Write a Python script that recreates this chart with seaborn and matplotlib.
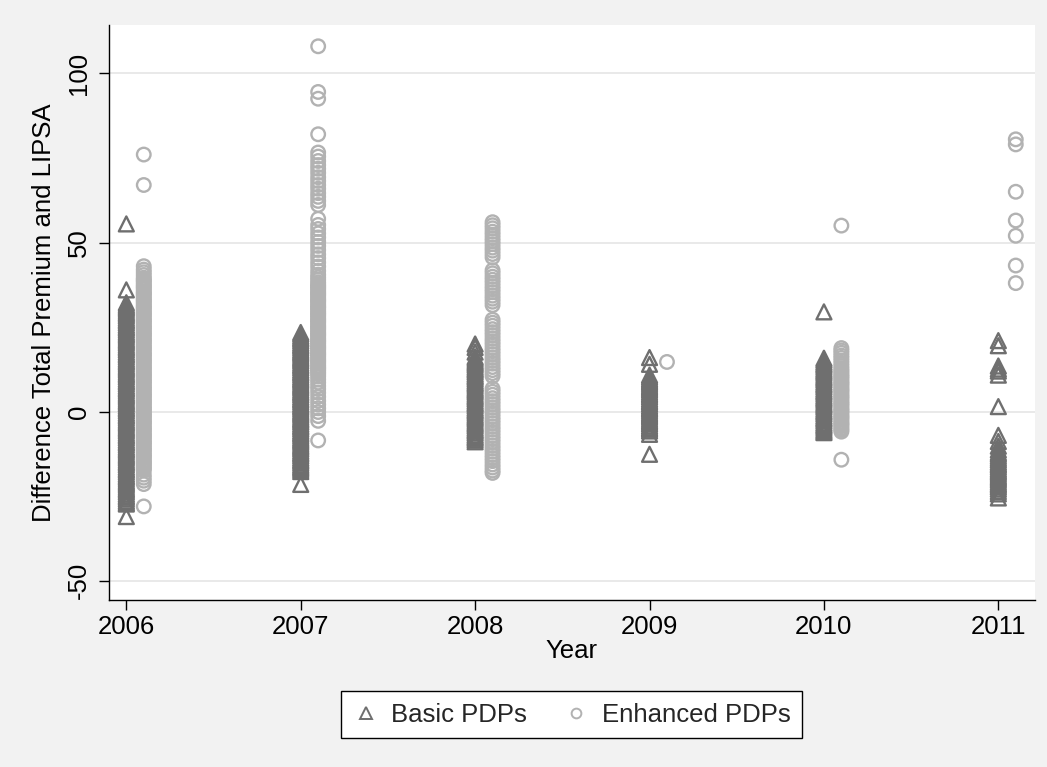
import matplotlib
matplotlib.use("Agg")
import matplotlib.pyplot as plt
import seaborn as sns
import pandas as pd
from matplotlib.lines import Line2D

# ---------------- data ----------------
years = [2006, 2007, 2008, 2009, 2010, 2011]

basic_2006 = [55.5, 36.0,
              32.2, 31.6, 31.1, 30.7, 30.2, 29.6, 29.1, 28.7, 28.2, 27.6, 27.1, 26.7, 26.2, 25.6,
              25.1, 24.7, 24.2, 23.6, 23.1, 22.7, 22.2, 21.6, 21.1, 20.7, 20.2, 19.6, 19.1, 18.7,
              18.2, 17.6, 17.1, 16.7, 16.2, 15.6, 15.1, 14.7, 14.2, 13.6, 13.1, 12.7, 12.2, 11.6,
              11.1, 10.7, 10.2, 9.6, 9.1, 8.7, 8.2, 7.6, 7.1, 6.7, 6.2, 5.6, 5.1, 4.7, 4.2, 3.6,
              3.1, 2.7, 2.2, 1.6, 1.1, 0.7, 0.2, -0.4, -0.9, -1.3, -1.8, -2.4, -2.9, -3.3, -3.8,
              -4.4, -4.9, -5.3, -5.8, -6.4, -6.9, -7.3, -7.8, -8.4, -8.9, -9.3, -9.8, -10.4, -10.9,
              -11.3, -11.8, -12.4, -12.9, -13.3, -13.8, -14.4, -14.9, -15.3, -15.8, -16.4, -16.9,
              -17.3, -17.8, -18.4, -18.9, -19.3, -19.8, -20.4, -20.9, -21.3, -21.8, -22.4, -22.9,
              -23.3, -23.8, -24.4, -24.9, -25.3, -25.8, -26.4, -26.9, -27.3,
              -31.0]
enh_2006 = [76.0, 67.0, 43.0, 42.0, 41.2, 40.4,
            39.6, 39.1, 38.7, 38.2, 37.6, 37.1, 36.7, 36.2, 35.6, 35.1, 34.7, 34.2, 33.6, 33.1,
            32.7, 32.2, 31.6, 31.1, 30.7, 30.2, 29.6, 29.1, 28.7, 28.2, 27.6, 27.1, 26.7, 26.2,
            25.6, 25.1, 24.7, 24.2, 23.6, 23.1, 22.7, 22.2, 21.6, 21.1, 20.7, 20.2, 19.6, 19.1,
            18.7, 18.2, 17.6, 17.1, 16.7, 16.2, 15.6, 15.1, 14.7, 14.2, 13.6, 13.1, 12.7, 12.2,
            11.6, 11.1, 10.7, 10.2, 9.6, 9.1, 8.7, 8.2, 7.6, 7.1, 6.7, 6.2, 5.6, 5.1, 4.7, 4.2,
            3.6, 3.1, 2.7, 2.2, 1.6, 1.1, 0.7, 0.2, -0.4, -0.9, -1.3, -1.8, -2.4, -2.9, -3.3,
            -3.8, -4.4, -4.9, -5.3, -5.8, -6.4, -6.9, -7.3, -7.8, -8.4, -8.9, -9.3, -9.8, -10.4,
            -10.9, -11.3, -11.8, -12.4, -12.9, -13.3, -13.8, -14.4, -14.9, -15.3, -15.8, -16.4,
            -16.9, -17.4,
            -18.6, -19.5, -20.4, -21.4, -28.0]

basic_2007 = [23.4, 22.9, 22.3, 21.8, 21.4, 20.9, 20.3, 19.8, 19.4, 18.9, 18.3, 17.8, 17.4, 16.9,
              16.3, 15.8, 15.4, 14.9, 14.3, 13.8, 13.4, 12.9, 12.3, 11.8, 11.4, 10.9, 10.3, 9.8,
              9.4, 8.9, 8.3, 7.8, 7.4, 6.9, 6.3, 5.8, 5.4, 4.9, 4.3, 3.8, 3.4, 2.9, 2.3, 1.8, 1.4,
              0.9, 0.3, -0.2, -0.6, -1.1, -1.7, -2.2, -2.6, -3.1, -3.7, -4.2, -4.6, -5.1, -5.7,
              -6.2, -6.6, -7.1, -7.7, -8.2, -8.6, -9.1, -9.7, -10.2, -10.6, -11.1, -11.7, -12.2,
              -12.6, -13.1, -13.7, -14.2, -14.6, -15.1, -15.7, -16.2, -16.6, -17.1, -17.7,
              -21.5]
enh_2007 = [108.0, 94.5, 92.5, 82.0,
            76.6, 75.4, 74.1, 72.9, 71.8, 70.6, 69.3, 68.2, 67.0, 65.9, 64.6, 63.5, 62.3, 61.1,
            57.0, 55.2, 54.0, 52.7, 51.5, 50.2, 49.0, 47.8, 46.5, 45.4, 44.1, 42.9, 41.6,
            40.5, 39.7, 39.0, 38.2, 37.6, 37.1, 36.7, 36.2, 35.6, 35.1, 34.7, 34.2,
            33.6, 33.1, 32.7, 32.2, 31.6, 31.1, 30.7, 30.2, 29.6, 29.1, 28.7, 28.2, 27.6, 27.1,
            26.7, 26.2, 25.6, 25.1, 24.7, 24.2, 23.6, 23.1, 22.7, 22.2, 21.6, 21.1, 20.7, 20.2,
            19.6, 19.1, 18.7, 18.2, 17.6, 17.1, 16.7, 16.2, 15.6, 15.1, 14.7, 14.2, 13.6, 13.1,
            12.7, 12.2, 11.6, 11.1, 10.4, 9.5, 8.6, 7.6, 6.7,
            5.6, 4.4, 3.2, 2.1, 1.0, -0.1, -1.3, -2.7,
            -8.5]

basic_2008 = [20.0, 19.0, 17.6,
              16.2, 15.7, 15.1, 14.6, 14.2, 13.7, 13.1, 12.6, 12.2, 11.7, 11.1, 10.6, 10.2, 9.7,
              9.1, 8.6, 8.2, 7.7, 7.1, 6.6, 6.2, 5.7, 5.1, 4.6, 4.2, 3.7, 3.1, 2.6, 2.2, 1.7, 1.1,
              0.6, 0.2, -0.3, -0.9, -1.4, -1.8, -2.3, -2.9, -3.4, -3.8, -4.3, -4.9, -5.4, -5.8,
              -6.3, -6.9, -7.4, -7.8, -8.3, -8.9]
enh_2008 = [56.0, 55.1, 54.2, 53.2, 52.3, 51.3, 50.4, 49.5, 48.5, 47.6, 46.6, 45.6,
            41.8, 40.9, 39.9, 39.0, 38.1, 37.1, 36.2, 35.3, 34.3, 33.4, 32.5, 31.5,
            27.2, 26.3, 25.4, 24.4, 23.5, 22.6, 21.6, 20.7, 19.8, 18.8, 17.9, 17.0, 16.0, 15.1,
            14.2, 13.2, 12.3, 11.4, 10.5,
            6.8, 5.9, 5.0, 4.0, 3.1, 2.2, 1.2, 0.3, -0.6, -1.6, -2.5, -3.4, -4.4, -5.3, -6.2,
            -7.2, -8.1, -9.0, -10.0, -10.9, -11.8, -12.8, -13.7, -14.6, -15.6, -16.5, -17.4,
            -18.1]

basic_2009 = [16.0, 14.0,
              10.8, 10.3, 9.7, 9.2, 8.8, 8.3, 7.7, 7.2, 6.8, 6.3, 5.7, 5.2, 4.8, 4.3, 3.7, 3.2,
              2.8, 2.3, 1.7, 1.2, 0.8, 0.3, -0.3, -0.8, -1.2, -1.7, -2.3, -2.8, -3.2, -3.7, -4.3,
              -4.8, -5.2, -5.7, -6.7, -12.6]
enh_2009 = [14.7]

basic_2010 = [29.5,
              15.8, 15.3, 14.7, 14.2, 13.8, 13.3, 12.7, 12.2, 11.8, 11.3, 10.7, 10.2, 9.8, 9.3,
              8.7, 8.2, 7.8, 7.3, 6.7, 6.2, 5.8, 5.3, 4.7, 4.2, 3.8, 3.3, 2.7, 2.2, 1.8, 1.3, 0.7,
              0.2, -0.2, -0.7, -1.3, -1.8, -2.2, -2.7, -3.3, -3.8, -4.2, -4.7, -5.3, -5.8, -6.2]
enh_2010 = [55.0, 18.8, 18.1, 17.4, 16.6, 15.9, 15.1, 14.3, 13.5,
            12.8, 12.2, 11.7, 11.1, 10.6, 10.2, 9.7, 9.1, 8.6, 8.2, 7.7, 7.1, 6.6, 6.2, 5.7, 5.1,
            4.6, 4.2, 3.7, 3.1, 2.6, 2.2, 1.7, 1.1, 0.6, 0.2, -0.3, -0.9, -1.4, -1.8, -2.3, -2.9,
            -3.4, -3.8, -4.3, -4.9, -5.4, -5.9,
            -14.2]

basic_2011 = [21.0, 19.5, 13.5, 12.6, 12.0, 10.8, 1.5, -7.0, -8.8, -10.2, -11.3, -12.1, -12.6,
              -13.2, -13.8, -14.3, -14.9, -15.4, -15.8, -16.3, -16.9, -17.4, -17.8, -18.3, -18.9,
              -19.4, -19.8, -20.3, -20.9, -21.4, -21.8, -22.3, -22.9, -23.6, -24.3, -25.5]
enh_2011 = [80.5, 79.0, 65.0, 56.5, 52.0, 43.2, 38.0]

basic_vals = [basic_2006, basic_2007, basic_2008, basic_2009, basic_2010, basic_2011]
enh_vals = [enh_2006, enh_2007, enh_2008, enh_2009, enh_2010, enh_2011]

series_labels = ["Basic PDPs", "Enhanced PDPs"]
x_ticks = years
y_ticks = [-50, 0, 50, 100]
x_title = "Year"
y_title = "Difference Total Premium and LIPSA"

# ---------------- build frames ----------------
basic_df = pd.DataFrame({"year": [y for y, v in zip(years, basic_vals) for _ in v],
                         "diff": [d for v in basic_vals for d in v]})
enh_df = pd.DataFrame({"year": [y for y, v in zip(years, enh_vals) for _ in v],
                       "diff": [d for v in enh_vals for d in v]})
enh_offset = 0.1
enh_df["xpos"] = enh_df["year"] + enh_offset

# ---------------- style ----------------
sns.set_theme(style="white")
plt.rcParams["font.family"] = ["Liberation Sans", "DejaVu Sans"]

BASIC_C = "#6f6f6f"
ENH_C = "#b2b2b2"
BG = "#f2f2f2"
FS = 18.5

fig = plt.figure(figsize=(10.47, 7.67), dpi=100)
fig.patch.set_facecolor(BG)
ax = fig.add_axes([0.104, 0.218, 0.8845, 0.749])
ax.set_facecolor("white")

sns.scatterplot(data=basic_df, x="year", y="diff", ax=ax, marker="^", s=115,
                facecolors="none", edgecolor=BASIC_C, linewidth=1.7, color=BASIC_C,
                label=series_labels[0], legend=False, zorder=3)
sns.scatterplot(data=enh_df, x="xpos", y="diff", ax=ax, marker="o", s=95,
                facecolors="none", edgecolor=ENH_C, linewidth=1.7, color=ENH_C,
                label=series_labels[1], legend=False, zorder=3)

ax.set_xlim(2005.90, 2011.21)
ax.set_ylim(-55.6, 114.2)
ax.set_xticks(x_ticks)
ax.set_xticklabels([str(t) for t in x_ticks])
ax.set_yticks(y_ticks)
ax.set_yticklabels([str(t) for t in y_ticks], rotation=90, va="center")

ax.grid(axis="y", color="#e9e9e9", linewidth=1.4, zorder=0)
ax.grid(axis="x", visible=False)
ax.set_axisbelow(True)

for side in ["top", "right"]:
    ax.spines[side].set_visible(False)
for side in ["left", "bottom"]:
    ax.spines[side].set_color("black")
    ax.spines[side].set_linewidth(1.0)

ax.tick_params(axis="both", which="major", length=7, width=1.0, color="black",
               labelsize=FS, labelcolor="black", direction="out",
               left=True, bottom=True)
ax.tick_params(axis="x", pad=4)
ax.tick_params(axis="y", pad=6)
ax.set_xlabel(x_title, fontsize=FS, color="black", labelpad=0)
ax.set_ylabel(y_title, fontsize=FS, color="black", labelpad=8)

handles = [
    Line2D([], [], linestyle="none", marker="^", markersize=8, markerfacecolor="none",
           markeredgecolor=BASIC_C, markeredgewidth=1.4),
    Line2D([], [], linestyle="none", marker="o", markersize=7, markerfacecolor="none",
           markeredgecolor=ENH_C, markeredgewidth=1.4),
]
leg = fig.legend(handles, series_labels, loc="center", bbox_to_anchor=(0.546, 0.068),
                 ncol=2, frameon=True, fancybox=False, fontsize=FS,
                 handletextpad=0.5, columnspacing=1.4, borderpad=0.45, handlelength=1.0)
leg.get_frame().set_edgecolor("black")
leg.get_frame().set_linewidth(1.0)
leg.get_frame().set_facecolor("white")
leg.get_frame().set_alpha(1.0)

fig.savefig("out.png", dpi=100, facecolor=BG)
